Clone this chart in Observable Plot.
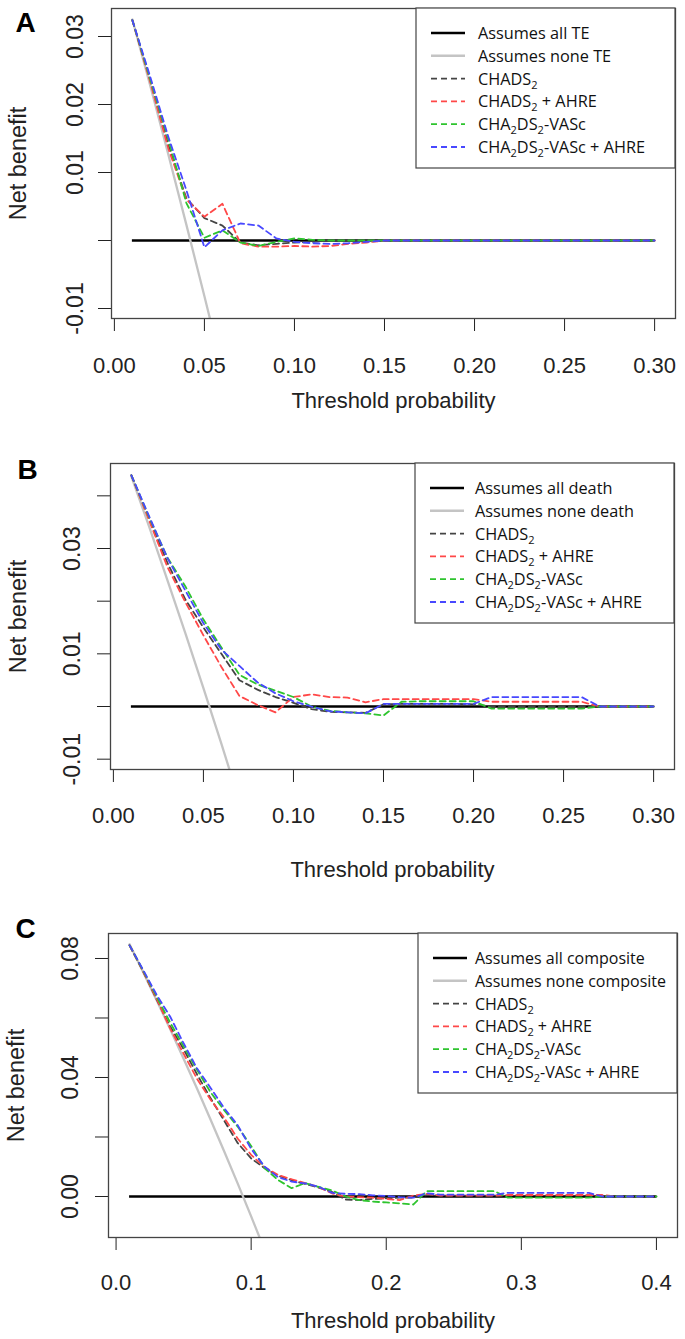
<!DOCTYPE html>
<html>
<head>
<meta charset="utf-8">
<script src="https://cdn.jsdelivr.net/npm/d3@7"></script>
<script src="https://cdn.jsdelivr.net/npm/@observablehq/plot@0.6"></script>
<style>
  html, body { margin: 0; padding: 0; background: #fff; overflow: hidden; }
  #chart { width: 685px; }
  .panel { position: relative; width: 685px; overflow: hidden; }
  .panel svg { display: block; }
</style>
</head>
<body>
<div id="chart"></div>
<script>
// ---------- DATA ----------
const thresholdsAB = [0.01,0.02,0.03,0.04,0.05,0.06,0.07,0.08,0.09,0.10,
  0.11,0.12,0.13,0.14,0.15,0.16,0.17,0.18,0.19,0.20,
  0.21,0.22,0.23,0.24,0.25,0.26,0.27,0.28,0.29,0.30];
const thresholdsC = [0.01,0.02,0.03,0.04,0.05,0.06,0.07,0.08,0.09,0.10,
  0.11,0.12,0.13,0.14,0.15,0.16,0.17,0.18,0.19,0.20,
  0.21,0.22,0.23,0.24,0.25,0.26,0.27,0.28,0.29,0.30,
  0.31,0.32,0.33,0.34,0.35,0.36,0.37,0.38,0.39,0.40];

const modelNames = ["CHADS2", "CHADS2 + AHRE", "CHA2DS2-VASc", "CHA2DS2-VASc + AHRE"];
const outcomes = ["TE", "death", "composite"];
const panelLetters = ["A", "B", "C"];
const allNetBenefit = 0;

// Panel A: thromboembolism
const noneA = [0.0325, 0.0227, 0.0126, 0.0023, -0.0082, -0.0189];
const chadsA = [0.0324,0.0235,0.0140,0.0062,0.0033,0.0022,-0.0003,-0.0007,-0.0005,-0.0003,
  -0.0002,0,0,0,0,0,0,0,0,0, 0,0,0,0,0,0,0,0,0,0];
const chadsAhreA = [0.0324,0.0232,0.0135,0.0060,0.0035,0.0054,-0.0004,-0.0009,-0.0009,-0.0008,
  -0.0009,-0.0008,-0.0005,-0.0003,0,0,0,0,0,0, 0,0,0,0,0,0,0,0,0,0];
const vascA = [0.0324,0.0236,0.0148,0.0055,0.0004,0.0015,-0.0003,-0.0008,-0.0002,0.0003,
  0.0001,0,0,0,0,0,0,0,0,0, 0,0,0,0,0,0,0,0,0,0];
const vascAhreA = [0.0324,0.0240,0.0152,0.0074,-0.0010,0.0015,0.0025,0.0022,0.0003,-0.0002,
  -0.0004,-0.0005,-0.0004,-0.0002,0,0,0,0,0,0, 0,0,0,0,0,0,0,0,0,0];

// Panel B: death
const noneB = [0.0437, 0.0340, 0.0240, 0.0139, 0.0035, -0.0071, -0.0180];
const chadsB = [0.0439,0.0355,0.0273,0.0203,0.0150,0.0100,0.0050,0.0032,0.0018,0.0007,
  -0.0005,-0.0010,-0.0011,-0.0012,0.0004,0.0005,0.0005,0.0005,0.0005,0.0004,
  0,0,0,0,0,0,0,0,0,0];
const chadsAhreB = [0.0439,0.0352,0.0265,0.0198,0.0135,0.0075,0.0020,0.0003,-0.0011,0.0018,
  0.0023,0.0018,0.0017,0.0008,0.0014,0.0014,0.0014,0.0014,0.0014,0.0014,
  0.0009,0.0009,0.0009,0.0009,0.0009,0.0009,0,0,0,0];
const vascB = [0.0439,0.0358,0.0283,0.0228,0.0165,0.0112,0.0060,0.0042,0.0030,0.0018,
  0.0000,-0.0008,-0.0011,-0.0013,-0.0017,0.0009,0.0010,0.0010,0.0010,0.0010,
  -0.0004,-0.0004,-0.0004,-0.0004,-0.0004,-0.0004,0,0,0,0];
const vascAhreB = [0.0439,0.0360,0.0282,0.0220,0.0158,0.0108,0.0077,0.0046,0.0025,0.0010,
  0.0000,-0.0009,-0.0011,-0.0013,0.0005,0.0005,0.0005,0.0005,0.0005,0.0005,
  0.0018,0.0018,0.0018,0.0018,0.0018,0.0018,0,0,0,0];

// Panel C: composite
const noneC = [0.0848, 0.0755, 0.0660, 0.0563, 0.0463, 0.0362, 0.0258, 0.0152, 0.0044, -0.0067, -0.0180];
const chadsC = [0.0844,0.0757,0.0663,0.0572,0.0495,0.0410,0.0330,0.0255,0.0180,0.0128,
  0.0095,0.0070,0.0055,0.0042,0.0030,0.0015,-0.0010,-0.0012,-0.0008,-0.0006,
  -0.0004,-0.0004,0.0005,0.0003,0.0003,0.0003,0.0003,0.0003,0.0003,0.0003,
  0.0003,0.0003,0.0003,0.0003,0.0003,0,0,0,0,0];
const chadsAhreC = [0.0844,0.0757,0.0665,0.0565,0.0480,0.0395,0.0325,0.0265,0.0195,0.0140,
  0.0098,0.0072,0.0058,0.0045,0.0032,0.0010,0.0000,-0.0002,-0.0004,-0.0008,
  -0.0012,0.0003,0.0009,0.0003,0.0003,0.0003,0.0003,0.0003,0.0005,0.0005,
  0.0005,0.0005,0.0005,0.0005,0.0005,0.0005,0,0,0,0];
const vascC = [0.0844,0.0760,0.0672,0.0585,0.0505,0.0425,0.0350,0.0290,0.0235,0.0170,
  0.0095,0.0055,0.0028,0.0045,0.0032,0.0020,0.0000,-0.0012,-0.0017,-0.0020,
  -0.0023,-0.0027,0.0018,0.0018,0.0018,0.0018,0.0018,0.0018,-0.0004,-0.0004,
  -0.0004,-0.0004,-0.0004,-0.0004,-0.0004,0,0,0,0,0];
const vascAhreC = [0.0844,0.0762,0.0678,0.0605,0.0515,0.0430,0.0365,0.0297,0.0240,0.0160,
  0.0100,0.0065,0.0050,0.0044,0.0033,0.0012,0.0009,0.0008,0.0004,0.0002,
  -0.0002,-0.0004,0.0011,0.0006,0.0006,0.0006,0.0006,0.0006,0.0012,0.0012,
  0.0012,0.0012,0.0012,0.0012,0.0012,0,0,0,0,0];

// tick values
const xTicksAB = [0, 0.05, 0.10, 0.15, 0.20, 0.25, 0.30];
const xTicksC = [0, 0.1, 0.2, 0.3, 0.4];
const yTicksA = [-0.01, 0, 0.01, 0.02, 0.03];
const yLabelsA = [-0.01, 0.01, 0.02, 0.03];
const yTicksB = [-0.01, 0, 0.01, 0.02, 0.03, 0.04];
const yLabelsB = [-0.01, 0.01, 0.03];
const yTicksC = [0, 0.02, 0.04, 0.06, 0.08];
const yLabelsC = [0, 0.04, 0.08];

// ---------- STYLE / LAYOUT ----------
const modelColors = ["#444444", "#ff4848", "#2ec42e", "#4848ff"];
const FONT = "'Liberation Sans', Arial, Helvetica, sans-serif";
const LEGEND_FONT = "'Open Sans', 'DejaVu Sans', sans-serif";

const panels = [
  { letter: panelLetters[0], outcome: outcomes[0], height: 440,
    margin: {left: 111, right: 10, top: 8, bottom: 122},
    xDomain: [-0.0016, 0.3116], yDomain: [-0.01147, 0.03412],
    x: thresholdsAB, none: noneA, series: [chadsA, chadsAhreA, vascA, vascAhreA],
    xTicks: xTicksAB, xDigits: 2, xLabelDy: 47,
    yTicks: yTicksA, yLabels: yLabelsA, legendTextDx: 62, legendFont: 16.3,
    yTickDx: -36, yTitleDx: -93.5, xTitleDy: 82, letterDx: -96, letterDy: 15 },
  { letter: panelLetters[1], outcome: outcomes[1], height: 450,
    margin: {left: 110, right: 11, top: 23, bottom: 121},
    xDomain: [-0.0016, 0.3116], yDomain: [-0.01196, 0.04614],
    x: thresholdsAB, none: noneB, series: [chadsB, chadsAhreB, vascB, vascAhreB],
    xTicks: xTicksAB, xDigits: 2, xLabelDy: 46,
    yTicks: yTicksB, yLabels: yLabelsB, legendTextDx: 60, legendFont: 16.3,
    yTickDx: -37.4, yTitleDx: -92.5, xTitleDy: 100, letterDx: -93, letterDy: 7 },
  { letter: panelLetters[2], outcome: outcomes[2], height: 449,
    margin: {left: 108, right: 8, top: 43, bottom: 102},
    xDomain: [-0.0056, 0.4156], yDomain: [-0.01378, 0.0884],
    x: thresholdsC, none: noneC, series: [chadsC, chadsAhreC, vascC, vascAhreC],
    xTicks: xTicksC, xDigits: 1, xLabelDy: 45,
    yTicks: yTicksC, yLabels: yLabelsC, legendTextDx: 57, legendFont: 16,
    yTickDx: -37.4, yTitleDx: -92.4, xTitleDy: 83, letterDx: -93, letterDy: -4 }
];

function drawPanel(p) {
  const noneX = p.x.slice(0, p.none.length);
  const x0 = p.x[0], x1 = p.x[p.x.length - 1];
  const plot = Plot.plot({
    width: 685,
    height: p.height,
    marginLeft: p.margin.left, marginRight: p.margin.right,
    marginTop: p.margin.top, marginBottom: p.margin.bottom,
    style: { fontFamily: FONT, fontSize: "22px", color: "#222", background: "#fff", overflow: "visible" },
    x: { domain: p.xDomain, ticks: p.xTicks, tickSize: 13, tickFormat: () => "", label: null },
    y: { domain: p.yDomain, ticks: p.yTicks, tickSize: 13, tickFormat: () => "", label: null },
    marks: [
      Plot.ruleY([allNetBenefit], { x1: () => x0, x2: () => x1, stroke: "#000", strokeWidth: 2.6 }),
      Plot.line(noneX, { x: noneX, y: p.none, stroke: "#c4c4c4", strokeWidth: 2.3, clip: true }),
      ...p.series.map((vals, i) => Plot.line(p.x, {
        x: p.x, y: vals, stroke: modelColors[i], strokeWidth: 1.8,
        strokeDasharray: "6,4", clip: true
      })),
      Plot.frame({ stroke: "#444", strokeWidth: 1.3 }),
      Plot.text(p.xTicks, { x: d => d, text: d => d.toFixed(p.xDigits), frameAnchor: "bottom",
        textAnchor: "middle", lineAnchor: "middle", dy: p.xLabelDy, fontSize: 22, fill: "#222" }),
      Plot.text(p.yLabels, { y: d => d, text: d => d.toFixed(2), frameAnchor: "left",
        textAnchor: "middle", lineAnchor: "middle",
        rotate: -90, dx: p.yTickDx, fontSize: 23, fill: "#222" }),
      Plot.text(["Net benefit"], { text: d => d, frameAnchor: "left", rotate: -90,
        textAnchor: "middle", lineAnchor: "middle",
        dx: p.yTitleDx, fontSize: 23.5, fill: "#222" }),
      Plot.text(["Threshold probability"], { text: d => d, frameAnchor: "bottom",
        textAnchor: "middle", lineAnchor: "middle",
        dy: p.xTitleDy, fontSize: 22, fill: "#222" }),
      Plot.text([p.letter], { text: d => d, frameAnchor: "top-left", textAnchor: "start",
        lineAnchor: "middle",
        dx: p.letterDx, dy: p.letterDy, fontSize: 28, fontWeight: "bold", fill: "#000",
        fontFamily: "'Liberation Sans', Arial, sans-serif" })
    ]
  });

  // Legend (top-right inside the frame)
  const right = 685 - p.margin.right, top = p.margin.top;
  const lw = 259, lh = 160, left = right - lw;
  const entries = [
    { label: "Assumes all " + p.outcome, color: "#000", width: 2.6, dash: null },
    { label: "Assumes none " + p.outcome, color: "#c4c4c4", width: 2.6, dash: null },
    ...modelNames.map((m, i) => ({ label: m, color: modelColors[i], width: 1.8, dash: "6,4" }))
  ];
  const svg = d3.select(plot);
  const g = svg.append("g").attr("class", "legend");
  g.append("rect").attr("x", left).attr("y", top).attr("width", lw).attr("height", lh)
    .attr("fill", "#fff").attr("stroke", "#444").attr("stroke-width", 1.2);
  entries.forEach((e, i) => {
    const cy = top + 25 + i * 22.8;
    const ln = g.append("line").attr("x1", left + 15).attr("x2", left + 49)
      .attr("y1", cy).attr("y2", cy).attr("stroke", e.color).attr("stroke-width", e.width);
    if (e.dash) ln.attr("stroke-dasharray", e.dash);
    const t = g.append("text").attr("x", left + p.legendTextDx).attr("y", cy + 6)
      .attr("font-family", LEGEND_FONT).attr("font-size", p.legendFont).attr("fill", "#111")
      .attr("text-anchor", "start");
    const parts = e.label.split(/(\d)/).filter(s => s.length);
    let shifted = false;
    parts.forEach(s => {
      const sp = t.append("tspan").text(s);
      if (/^\d$/.test(s)) {
        sp.attr("font-size", 11).attr("dy", 4);
        shifted = true;
      } else if (shifted) {
        sp.attr("dy", -4);
        shifted = false;
      }
    });
  });
  return plot;
}

const chart = document.getElementById("chart");
panels.forEach(p => {
  const div = document.createElement("div");
  div.className = "panel";
  div.style.height = p.height + "px";
  div.appendChild(drawPanel(p));
  chart.appendChild(div);
});
</script>
</body>
</html>
